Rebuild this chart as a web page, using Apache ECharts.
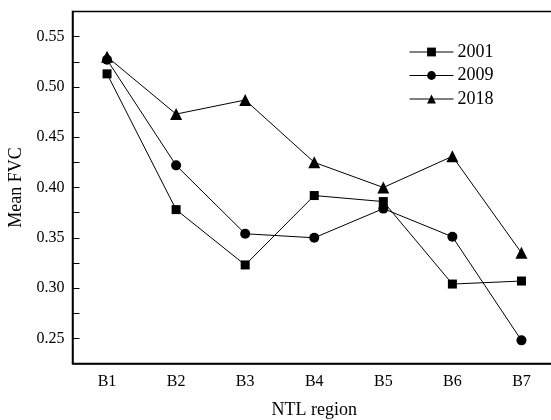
<!DOCTYPE html>
<html>
<head>
<meta charset="utf-8">
<script src="https://cdn.jsdelivr.net/npm/echarts@6/dist/echarts.min.js"></script>
<style>html,body{margin:0;padding:0;background:#fff;}#c{width:551px;height:420px;}</style>
</head>
<body>
<div id="c"></div>
<script>
const categories = ['B1','B2','B3','B4','B5','B6','B7'];
const s2001 = [0.513, 0.378, 0.323, 0.392, 0.386, 0.304, 0.307];
const s2009 = [0.527, 0.422, 0.354, 0.350, 0.379, 0.351, 0.248];
const s2018 = [0.530, 0.473, 0.487, 0.425, 0.400, 0.431, 0.335];
const seriesNames = ['2001', '2009', '2018'];
const font = 'Liberation Serif, Times New Roman, serif';

const chart = echarts.init(document.getElementById('c'));
function mk(name, data, symbol, size) {
  return {
    name: name, type: 'line', data: data, symbol: symbol, symbolSize: size,
    lineStyle: {color: '#000', width: 1}, itemStyle: {color: '#000'},
    showSymbol: true, animation: false
  };
}
chart.setOption({
  animation: false,
  grid: {left: 72.5, width: 483.5, top: 11.5, bottom: 56.5, show: true, borderColor: '#000', borderWidth: 1.5,
         containLabel: false, outerBoundsMode: 'none'},
  legend: {
    orient: 'vertical', left: 404, top: 38, itemWidth: 44, itemHeight: 11, itemGap: 5.5,
    lineStyle: {width: 1},
    textStyle: {fontFamily: font, fontSize: 18, color: '#000', padding: [0, 0, 0, -1]},
    data: seriesNames
  },
  xAxis: {
    type: 'category', data: categories, boundaryGap: true,
    name: 'NTL region', nameLocation: 'middle', nameGap: 38,
    nameTextStyle: {fontFamily: font, fontSize: 18, color: '#000'},
    axisLine: {lineStyle: {color: '#000', width: 1.5}},
    axisTick: {inside: true, alignWithLabel: true, length: 6, lineStyle: {color: '#000', width: 1}},
    axisLabel: {fontFamily: font, fontSize: 16, color: '#000', margin: 10},
    splitLine: {show: false}
  },
  yAxis: {
    type: 'value', min: 0.225, max: 0.575, interval: 0.025,
    name: 'Mean FVC', nameLocation: 'middle', nameGap: 47,
    nameTextStyle: {fontFamily: font, fontSize: 18, color: '#000'},
    axisLine: {show: true, lineStyle: {color: '#000', width: 1.5}},
    axisTick: {show: true, inside: true, length: 7, lineStyle: {color: '#000', width: 1}},
    axisLabel: {
      fontFamily: font, fontSize: 16, color: '#000', margin: 8,
      formatter: function (v) {
        const k = Math.round(v * 1000);
        if (k % 50 === 0 && k > 225 && k < 575) return (k / 1000).toFixed(2);
        return '';
      }
    },
    splitLine: {show: false}
  },
  series: [
    mk(seriesNames[0], s2001, 'rect', 9),
    mk(seriesNames[1], s2009, 'circle', 10),
    mk(seriesNames[2], s2018, 'triangle', 12)
  ]
});
</script>
</body>
</html>
